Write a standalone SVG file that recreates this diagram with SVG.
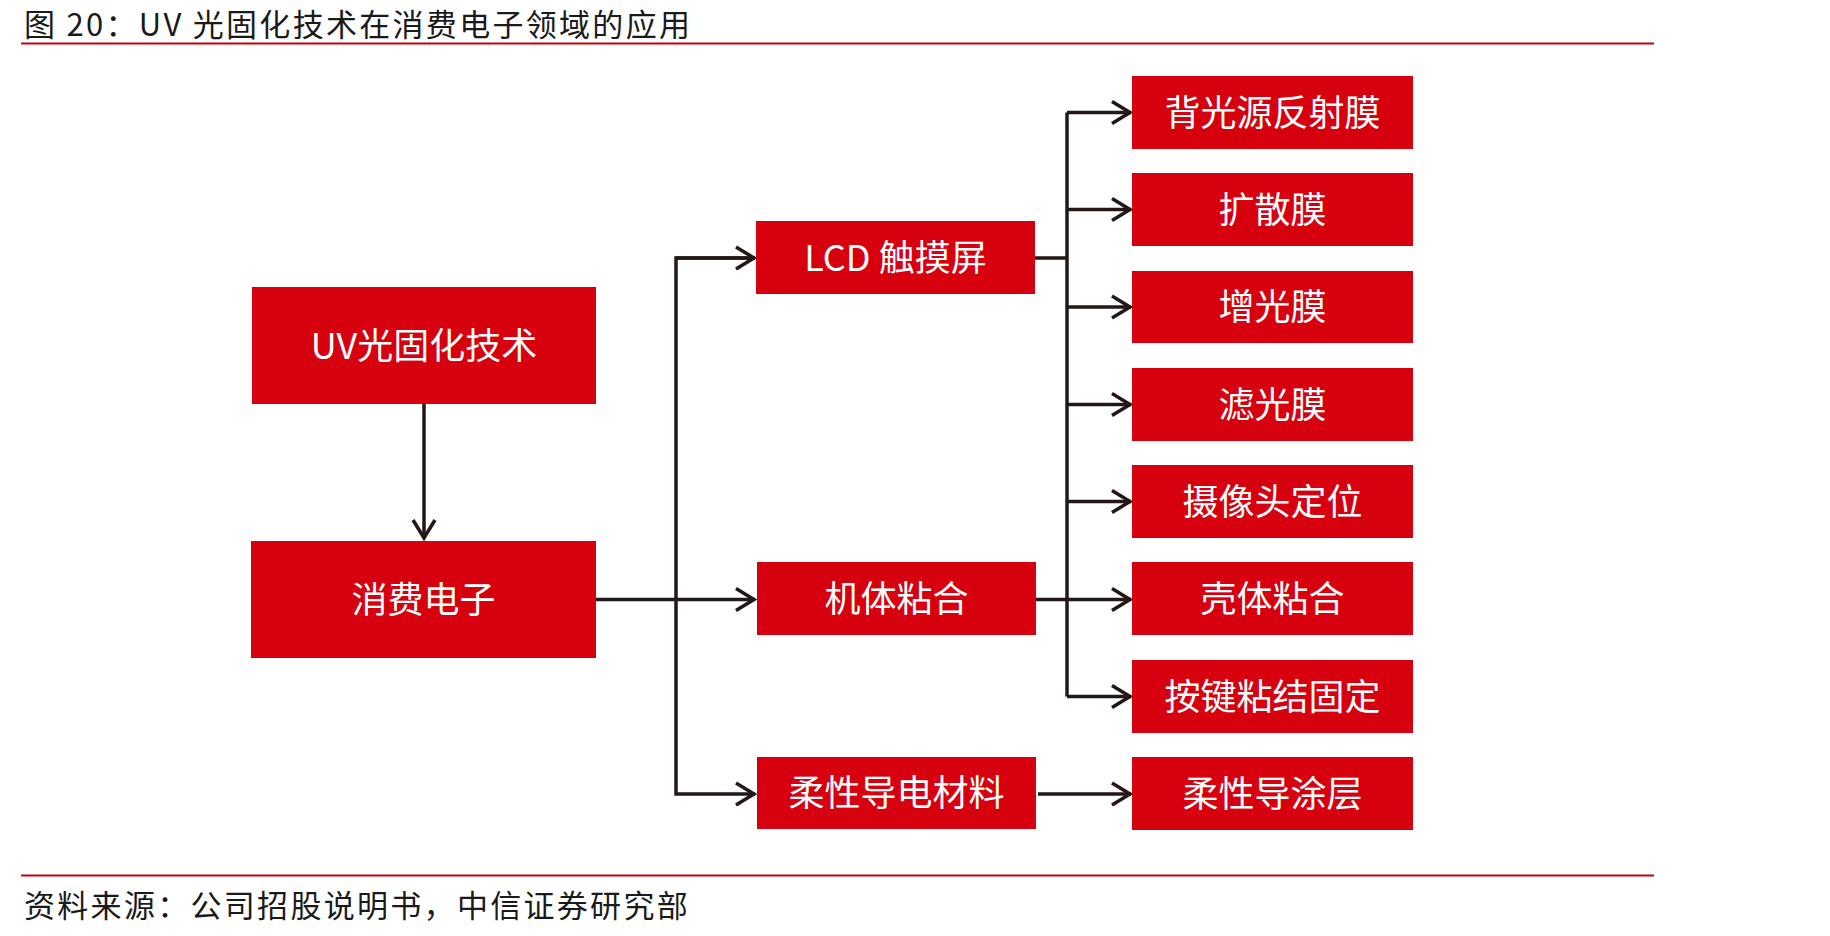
<svg xmlns="http://www.w3.org/2000/svg" width="1830" height="936" viewBox="0 0 1830 936">
<style>
.box{fill:#D7000F}
.lbl{font-family:"Noto Sans CJK SC","Noto Sans",sans-serif;font-size:36px;fill:#ffffff;text-anchor:middle}
.cap{font-family:"Noto Sans CJK SC","Noto Sans",sans-serif;font-size:31px;letter-spacing:2.3px;fill:#1a1a1a}
.rule{stroke:#C8000C;stroke-width:2.2}
.con{fill:none;stroke:#231815;stroke-width:3.5}
</style>
<defs>
<marker id="arr" markerUnits="userSpaceOnUse" viewBox="0 0 24 26" markerWidth="24" markerHeight="26" refX="21" refY="13" orient="auto">
<path d="M2,2 L20,13 L2,24" fill="none" stroke="#231815" stroke-width="3.5"/>
</marker>
</defs>
<rect width="1830" height="936" fill="#ffffff"/>
<text class="cap" x="24" y="36">图 20：UV 光固化技术在消费电子领域的应用</text>
<line class="rule" x1="21" y1="43.5" x2="1654" y2="43.5"/>
<line class="rule" x1="21" y1="875.5" x2="1654" y2="875.5"/>
<text class="cap" x="24" y="917">资料来源：公司招股说明书，中信证券研究部</text>

<g id="connectors">
<line class="con" x1="424" y1="404" x2="424" y2="539" marker-end="url(#arr)"/>
<line class="con" x1="596" y1="599.5" x2="755" y2="599.5" marker-end="url(#arr)"/>
<polyline class="con" points="755,258 676,258 676,794 755,794" marker-end="url(#arr)"/>
<line class="con" x1="676" y1="258" x2="755" y2="258" marker-end="url(#arr)"/>
<line class="con" x1="1035" y1="258" x2="1067" y2="258"/>
<line class="con" x1="1067" y1="112.5" x2="1067" y2="696.5"/>
<line class="con" x1="1067" y1="112.5" x2="1131" y2="112.5" marker-end="url(#arr)"/>
<line class="con" x1="1067" y1="209.5" x2="1131" y2="209.5" marker-end="url(#arr)"/>
<line class="con" x1="1067" y1="307" x2="1131" y2="307" marker-end="url(#arr)"/>
<line class="con" x1="1067" y1="404.5" x2="1131" y2="404.5" marker-end="url(#arr)"/>
<line class="con" x1="1067" y1="501.5" x2="1131" y2="501.5" marker-end="url(#arr)"/>
<line class="con" x1="1036" y1="599.5" x2="1131" y2="599.5" marker-end="url(#arr)"/>
<line class="con" x1="1067" y1="696.5" x2="1131" y2="696.5" marker-end="url(#arr)"/>
<line class="con" x1="1038" y1="794" x2="1131" y2="794" marker-end="url(#arr)"/>
</g>

<g id="n-uv"><rect class="box" x="252" y="287" width="344" height="117"/><text class="lbl" x="424" y="358.5">UV光固化技术</text></g>
<g id="n-xfdz"><rect class="box" x="251" y="541" width="345" height="117"/><text class="lbl" x="423.5" y="612.5">消费电子</text></g>
<g id="n-lcd"><rect class="box" x="756" y="221" width="279" height="73"/><text class="lbl" x="895.5" y="270.5">LCD 触摸屏</text></g>
<g id="n-jtnh"><rect class="box" x="757" y="562" width="279" height="73"/><text class="lbl" x="896.5" y="611.5">机体粘合</text></g>
<g id="n-rxddcl"><rect class="box" x="757" y="757" width="279" height="72"/><text class="lbl" x="896.5" y="806">柔性导电材料</text></g>
<g id="n-bgy"><rect class="box" x="1132" y="76" width="281" height="73"/><text class="lbl" x="1272.5" y="125.5">背光源反射膜</text></g>
<g id="n-ksm"><rect class="box" x="1132" y="173" width="281" height="73"/><text class="lbl" x="1272.5" y="222.5">扩散膜</text></g>
<g id="n-zgm"><rect class="box" x="1132" y="271" width="281" height="72"/><text class="lbl" x="1272.5" y="320">增光膜</text></g>
<g id="n-lgm"><rect class="box" x="1132" y="368" width="281" height="73"/><text class="lbl" x="1272.5" y="417.5">滤光膜</text></g>
<g id="n-sxt"><rect class="box" x="1132" y="465" width="281" height="73"/><text class="lbl" x="1272.5" y="514.5">摄像头定位</text></g>
<g id="n-ktnh"><rect class="box" x="1132" y="562" width="281" height="73"/><text class="lbl" x="1272.5" y="611.5">壳体粘合</text></g>
<g id="n-ajnj"><rect class="box" x="1132" y="660" width="281" height="73"/><text class="lbl" x="1272.5" y="709.5">按键粘结固定</text></g>
<g id="n-rxdtc"><rect class="box" x="1132" y="757" width="281" height="73"/><text class="lbl" x="1272.5" y="806.5">柔性导涂层</text></g>
</svg>
